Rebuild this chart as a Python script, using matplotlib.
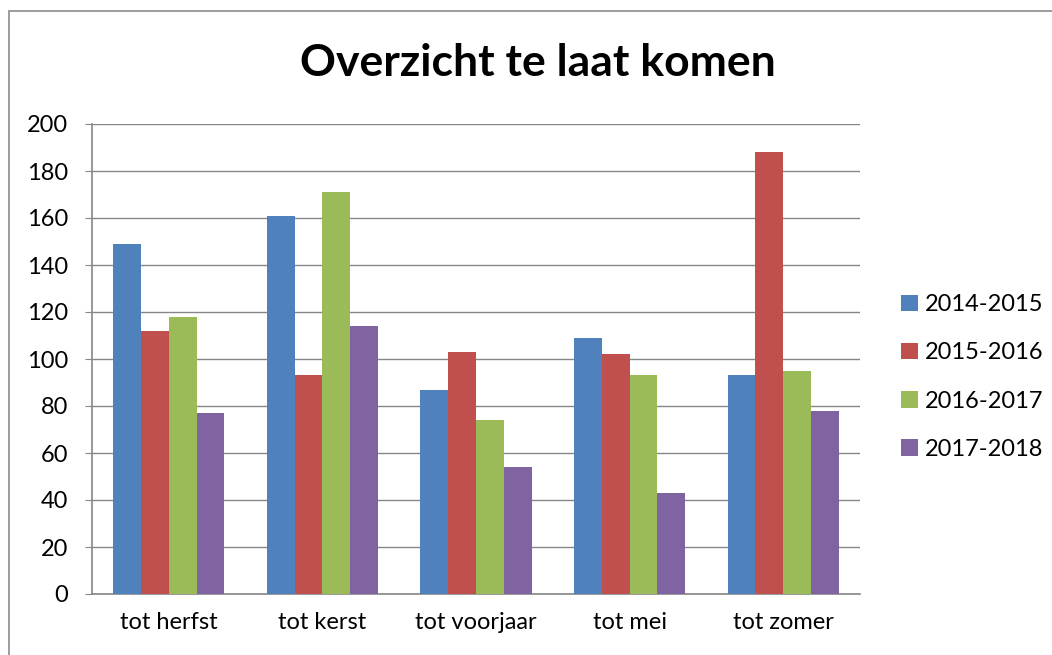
import numpy as np
import matplotlib.pyplot as plt
from matplotlib.patches import Rectangle

plt.rcParams['font.family'] = ['Lato', 'DejaVu Sans']

categories = ['tot herfst', 'tot kerst', 'tot voorjaar', 'tot mei', 'tot zomer']
s2014 = [149, 161, 87, 109, 93]
s2015 = [112, 93, 103, 102, 188]
s2016 = [118, 171, 74, 93, 95]
s2017 = [77, 114, 54, 43, 78]
series = [('2014-2015', s2014, '#4F81BD'),
          ('2015-2016', s2015, '#C0504D'),
          ('2016-2017', s2016, '#9BBB59'),
          ('2017-2018', s2017, '#8064A2')]

fig = plt.figure(figsize=(10.52, 6.55), dpi=100)
fig.patches.append(Rectangle((9/1052, -0.1), 1.2, 1 - 11/655 + 0.1, transform=fig.transFigure,
                             fill=False, edgecolor='#8c8c8c', linewidth=1.2))
ax = fig.add_axes([92/1052, 61/655, 768/1052, 470/655])

x = np.arange(len(categories))
w = 0.181
for i, (name, vals, col) in enumerate(series):
    ax.bar(x + (i - 1.5) * w, vals, width=w, color=col, label=name, zorder=3)

ax.set_xlim(-0.5, len(categories) - 0.5)
ax.set_ylim(0, 200)
ax.set_yticks(range(0, 201, 20))
ax.set_xticks(x)
ax.set_xticklabels(categories)
ax.yaxis.grid(True, color='#868686', linewidth=1, zorder=0)
ax.set_axisbelow(True)
for s in ['top', 'right']:
    ax.spines[s].set_visible(False)
for s in ['left', 'bottom']:
    ax.spines[s].set_color('#868686')
    ax.spines[s].set_linewidth(1.2)
ax.tick_params(axis='y', length=5, color='#868686', labelsize=17, pad=12)
ax.tick_params(axis='x', length=0, labelsize=17, pad=13)

fig.text(538/1052, 1 - 63/655, 'Overzicht te laat komen', ha='center', va='center',
         fontsize=32, fontweight='bold')

fig.legend(loc='center left', bbox_to_anchor=(901/1052, 1 - 377/655), frameon=False,
           borderpad=0, borderaxespad=0,
           fontsize=17, handlelength=0.7, handleheight=0.7, handletextpad=0.3,
           labelspacing=1.15)

fig.savefig('out.png', dpi=100)
